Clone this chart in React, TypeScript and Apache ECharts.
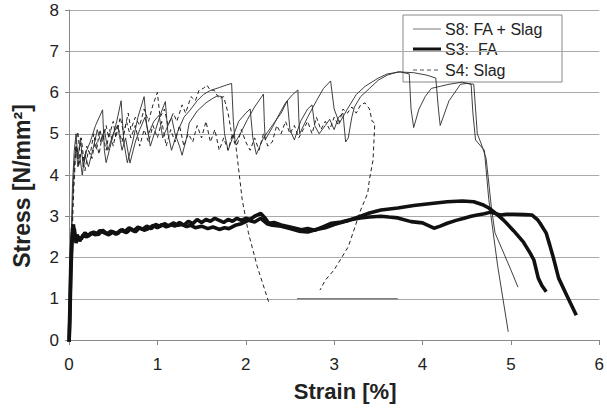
import React, { useEffect, useRef } from "react";
import * as echarts from "echarts";

// Tick settings
const xTicks = { min: 0, max: 6, interval: 1 };
const yTicks = { min: 0, max: 8, interval: 1 };

// Legend labels
const legendS8 = "S8: FA + Slag";
const legendS3 = "S3:  FA";
const legendS4 = "S4: Slag";

// S8: FA + Slag (thin solid) specimen A
const s8a: [number, number][] = [
  [0, 0], [0.02, 2.0], [0.04, 3.8], [0.06, 4.6], [0.08, 5.0], [0.1, 4.4], [0.13, 4.9], [0.16, 4.2],
  [0.2, 4.6], [0.24, 4.8], [0.3, 5.2], [0.38, 5.58], [0.4, 4.6], [0.42, 4.3], [0.48, 4.8], [0.54, 5.3],
  [0.59, 5.8], [0.62, 4.8], [0.66, 4.3], [0.72, 4.8], [0.78, 5.4], [0.85, 5.9], [0.88, 5.2], [0.92, 4.7],
  [0.98, 5.1], [1.04, 5.5], [1.09, 5.78], [1.12, 5.0], [1.16, 4.6], [1.22, 5.0], [1.3, 5.4], [1.38, 5.6],
  [1.45, 5.8], [1.52, 5.95], [1.6, 6.05], [1.7, 6.12], [1.78, 6.18], [1.84, 6.22], [1.86, 5.3], [1.88, 4.78],
  [1.95, 5.05], [2.02, 5.35], [2.1, 5.65], [2.2, 5.96], [2.21, 5.3], [2.22, 4.85], [2.3, 5.15], [2.36, 5.4],
  [2.45, 5.75], [2.53, 5.95], [2.59, 6.06], [2.6, 5.4], [2.61, 5.0], [2.7, 5.4], [2.8, 5.8], [2.88, 6.1],
  [2.96, 6.28], [3.0, 5.6], [3.06, 5.26], [3.15, 5.6], [3.25, 5.95], [3.35, 6.15], [3.5, 6.35], [3.6, 6.45],
  [3.75, 6.5], [3.85, 6.45], [3.87, 5.6], [3.9, 5.15], [3.96, 5.6], [4.03, 5.9], [4.1, 6.1], [4.2, 6.15],
  [4.3, 6.2], [4.45, 6.25], [4.55, 6.2], [4.57, 5.5], [4.6, 4.85], [4.7, 4.6], [4.75, 3.4], [4.85, 1.8],
  [4.97, 0.2],
];

// S8: FA + Slag (thin solid) specimen B
const s8b: [number, number][] = [
  [0, 0], [0.02, 1.5], [0.04, 3.2], [0.06, 4.2], [0.08, 4.7], [0.1, 4.2], [0.12, 4.5], [0.15, 4.0],
  [0.18, 4.5], [0.22, 4.2], [0.28, 4.7], [0.32, 5.1], [0.36, 4.8], [0.4, 5.1], [0.44, 4.6], [0.5, 5.0],
  [0.55, 5.2], [0.6, 4.6], [0.64, 4.9], [0.69, 4.29], [0.75, 4.8], [0.8, 5.1], [0.86, 5.4], [0.9, 5.0],
  [0.96, 5.3], [1.02, 5.45], [1.06, 4.9], [1.1, 5.1], [1.16, 5.4], [1.2, 5.0], [1.25, 4.7], [1.28, 4.48],
  [1.33, 4.9], [1.36, 5.26], [1.45, 5.55], [1.55, 5.75], [1.62, 5.85], [1.68, 5.92], [1.73, 5.9], [1.76, 5.0],
  [1.8, 4.6], [1.85, 4.9], [1.92, 5.3], [2.0, 5.5], [2.05, 5.6], [2.08, 4.9], [2.12, 4.5], [2.2, 4.9],
  [2.3, 5.2], [2.4, 5.5], [2.47, 5.8], [2.5, 5.1], [2.55, 4.85], [2.62, 5.3], [2.7, 5.6], [2.75, 5.7],
  [2.78, 5.2], [2.83, 5.0], [2.9, 5.2], [2.95, 5.35], [3.0, 5.1], [3.05, 5.4], [3.1, 5.5], [3.13, 4.8],
  [3.16, 4.9], [3.2, 5.4], [3.23, 5.65], [3.3, 5.9], [3.4, 6.1], [3.5, 6.3], [3.6, 6.42], [3.72, 6.5],
  [3.9, 6.48], [4.05, 6.42], [4.15, 6.35], [4.18, 5.6], [4.2, 5.2], [4.3, 5.8], [4.43, 6.2], [4.5, 6.22],
  [4.58, 6.2], [4.6, 5.6], [4.62, 5.0], [4.66, 4.78], [4.72, 4.4], [4.78, 3.2], [4.82, 2.6], [4.9, 2.2],
  [5.0, 1.7], [5.08, 1.28],
];

// S3: FA (thick solid) specimen A
const s3a: [number, number][] = [
  [0, -0.15], [0.01, 0.5], [0.02, 1.5], [0.03, 2.2], [0.04, 2.7], [0.05, 2.8], [0.07, 2.4], [0.09, 2.55],
  [0.12, 2.4], [0.16, 2.55], [0.2, 2.5], [0.25, 2.6], [0.3, 2.55], [0.35, 2.65], [0.4, 2.6], [0.45, 2.55],
  [0.5, 2.62], [0.55, 2.58], [0.6, 2.68], [0.65, 2.6], [0.7, 2.7], [0.75, 2.62], [0.8, 2.72], [0.85, 2.66],
  [0.9, 2.7], [0.95, 2.78], [1.0, 2.72], [1.05, 2.8], [1.1, 2.74], [1.15, 2.8], [1.2, 2.76], [1.25, 2.85],
  [1.3, 2.78], [1.35, 2.88], [1.4, 2.82], [1.45, 2.92], [1.5, 2.85], [1.55, 2.92], [1.6, 2.88], [1.65, 2.95],
  [1.7, 2.9], [1.75, 2.85], [1.8, 2.92], [1.85, 2.88], [1.9, 2.95], [1.95, 2.9], [2.0, 2.95], [2.05, 2.92],
  [2.1, 3.0], [2.17, 3.07], [2.22, 2.95], [2.26, 2.83], [2.32, 2.85], [2.4, 2.79], [2.5, 2.74], [2.63, 2.67],
  [2.7, 2.7], [2.78, 2.66], [2.88, 2.75], [2.97, 2.83], [3.08, 2.86], [3.16, 2.9], [3.3, 3.0], [3.4, 3.08],
  [3.53, 3.15], [3.72, 3.2], [3.9, 3.26], [4.1, 3.31], [4.28, 3.35], [4.45, 3.37], [4.58, 3.35], [4.68, 3.28],
  [4.75, 3.2], [4.84, 3.05], [4.92, 2.9], [5.03, 2.65], [5.14, 2.38], [5.22, 2.1], [5.26, 1.94], [5.31, 1.5],
  [5.35, 1.32], [5.4, 1.17],
];

// S3: FA (thick solid) specimen B
const s3b: [number, number][] = [
  [0, -0.1], [0.01, 0.8], [0.02, 1.8], [0.03, 2.3], [0.04, 2.6], [0.06, 2.7], [0.08, 2.35], [0.1, 2.5],
  [0.14, 2.45], [0.18, 2.6], [0.22, 2.52], [0.28, 2.62], [0.33, 2.55], [0.38, 2.66], [0.43, 2.58], [0.48, 2.64],
  [0.53, 2.56], [0.58, 2.66], [0.63, 2.62], [0.68, 2.72], [0.73, 2.64], [0.78, 2.74], [0.83, 2.68], [0.88, 2.76],
  [0.93, 2.7], [0.98, 2.8], [1.03, 2.75], [1.08, 2.82], [1.13, 2.76], [1.18, 2.84], [1.23, 2.78], [1.28, 2.8],
  [1.33, 2.75], [1.38, 2.78], [1.43, 2.72], [1.5, 2.76], [1.57, 2.7], [1.63, 2.74], [1.7, 2.68], [1.76, 2.72],
  [1.81, 2.7], [1.88, 2.78], [1.95, 2.82], [2.03, 2.9], [2.1, 2.86], [2.17, 2.95], [2.24, 2.82], [2.3, 2.78],
  [2.4, 2.76], [2.5, 2.7], [2.6, 2.64], [2.7, 2.62], [2.8, 2.68], [2.9, 2.72], [3.0, 2.8], [3.1, 2.86],
  [3.2, 2.92], [3.3, 2.96], [3.4, 2.98], [3.53, 3.0], [3.62, 2.98], [3.72, 2.96], [3.87, 2.87], [4.0, 2.84],
  [4.13, 2.71], [4.2, 2.76], [4.28, 2.83], [4.38, 2.9], [4.47, 2.95], [4.55, 3.0], [4.62, 3.03], [4.7, 3.06],
  [4.77, 3.1], [4.88, 3.03], [4.95, 3.05], [5.03, 3.05], [5.15, 3.04], [5.24, 3.03], [5.3, 2.92], [5.33, 2.83],
  [5.4, 2.59], [5.44, 2.3], [5.48, 2.0], [5.54, 1.5], [5.63, 1.09], [5.74, 0.6],
];

// S4: Slag (dashed) specimen A
const s4a: [number, number][] = [
  [0, 0], [0.02, 1.5], [0.04, 3.2], [0.06, 4.2], [0.08, 4.8], [0.1, 5.05], [0.12, 4.6], [0.14, 4.9],
  [0.17, 4.3], [0.2, 4.7], [0.24, 4.5], [0.28, 5.0], [0.31, 4.6], [0.35, 5.1], [0.38, 4.8], [0.42, 5.2],
  [0.45, 4.9], [0.5, 5.3], [0.53, 4.9], [0.58, 5.4], [0.62, 5.0], [0.67, 5.5], [0.7, 5.1], [0.75, 5.4],
  [0.8, 5.2], [0.85, 5.6], [0.9, 5.3], [0.95, 5.7], [1.0, 6.0], [1.03, 5.4], [1.08, 5.6], [1.12, 5.2],
  [1.18, 5.5], [1.22, 5.3], [1.28, 5.7], [1.32, 5.5], [1.38, 5.9], [1.43, 5.8], [1.47, 6.05], [1.52, 6.1],
  [1.56, 6.18], [1.6, 6.05], [1.64, 6.06], [1.7, 5.85], [1.75, 5.9], [1.8, 5.5], [1.84, 5.0], [1.89, 4.68],
  [1.96, 3.4], [2.03, 2.6], [2.13, 1.78], [2.26, 0.92],
];

// S4: Slag (dashed) specimen B
const s4b: [number, number][] = [
  [0, 0], [0.03, 2.0], [0.05, 3.5], [0.07, 4.3], [0.09, 4.7], [0.11, 4.2], [0.14, 4.6], [0.18, 4.1],
  [0.22, 4.6], [0.26, 4.4], [0.3, 4.9], [0.34, 4.5], [0.38, 5.0], [0.42, 4.6], [0.46, 5.1], [0.5, 4.7],
  [0.55, 5.2], [0.6, 4.8], [0.65, 5.3], [0.7, 4.9], [0.75, 5.2], [0.8, 4.7], [0.85, 5.1], [0.9, 4.8],
  [0.95, 5.2], [1.0, 4.9], [1.05, 5.3], [1.1, 4.7], [1.15, 5.1], [1.2, 4.8], [1.25, 5.2], [1.3, 4.7],
  [1.35, 5.0], [1.4, 4.8], [1.45, 5.2], [1.5, 4.9], [1.55, 5.3], [1.6, 4.8], [1.65, 5.1], [1.7, 4.6],
  [1.75, 4.9], [1.8, 4.6], [1.85, 5.0], [1.9, 4.7], [1.95, 5.1], [2.0, 4.8], [2.05, 4.6], [2.1, 4.9],
  [2.15, 4.6], [2.2, 5.0], [2.25, 4.7], [2.3, 4.8], [2.35, 5.2], [2.4, 5.0], [2.45, 5.3], [2.5, 5.0],
  [2.55, 5.2], [2.6, 4.9], [2.65, 5.1], [2.7, 5.3], [2.75, 5.0], [2.8, 5.4], [2.85, 5.1], [2.9, 5.3],
  [2.95, 5.1], [3.0, 5.4], [3.05, 5.2], [3.1, 5.6], [3.15, 5.5], [3.2, 5.65], [3.25, 5.5], [3.3, 5.7],
  [3.35, 5.75], [3.4, 5.6], [3.43, 5.3], [3.46, 5.26], [3.45, 4.8], [3.44, 4.36], [3.4, 3.9], [3.38, 3.56],
  [3.3, 3.15], [3.16, 2.26], [3.0, 1.7], [2.9, 1.45], [2.84, 1.21],
];

// Flat segment at stress 1 (logged plateau)
const flatSegment: [number, number][] = [
  [2.58, 1.0], [3.72, 1.0],
];

const FONT = "'Liberation Sans', Arial, sans-serif";

export default function App() {
  const ref = useRef<HTMLDivElement>(null);

  useEffect(() => {
    if (!ref.current) return;
    const chart = echarts.init(ref.current, undefined, { renderer: "svg" });

    const thin = { color: "#2a2a2a", width: 0.9 };
    const thick = { color: "#111", width: 3.6 };
    const dashed = { color: "#222", width: 1, type: [4, 3] as number[] };

    const mk = (name: string, data: [number, number][], lineStyle: any, z = 2) => ({
      type: "line",
      name,
      data,
      showSymbol: false,
      symbol: "none",
      lineStyle,
      z,
      silent: true,
    });

    chart.setOption({
      animation: false,
      backgroundColor: "#fff",
      grid: { left: 69, right: 4, top: 10, bottom: 70, containLabel: false },
      xAxis: {
        type: "value",
        min: xTicks.min,
        max: xTicks.max,
        interval: xTicks.interval,
        name: "Strain [%]",
        nameLocation: "middle",
        nameGap: 40,
        nameTextStyle: { fontFamily: FONT, fontSize: 22, fontWeight: "bold", color: "#222", padding: [0, 0, 0, 22] },
        axisLine: { show: true, lineStyle: { color: "#888", width: 1 } },
        axisTick: { show: true, length: 5, lineStyle: { color: "#888" } },
        axisLabel: { fontFamily: FONT, fontSize: 17, color: "#222", margin: 16 },
        splitLine: { show: false },
      },
      yAxis: {
        type: "value",
        min: yTicks.min,
        max: yTicks.max,
        interval: yTicks.interval,
        name: "Stress [N/mm²]",
        nameLocation: "middle",
        nameGap: 36,
        nameRotate: 90,
        nameTextStyle: { fontFamily: FONT, fontSize: 23, fontWeight: "bold", color: "#222", padding: [0, 22, 0, 0] },
        axisLine: { show: true, lineStyle: { color: "#888", width: 1 } },
        axisTick: { show: true, length: 4, lineStyle: { color: "#888" } },
        axisLabel: { fontFamily: FONT, fontSize: 17, color: "#222", margin: 10 },
        splitLine: { show: true, lineStyle: { color: "#aaa", width: 1 } },
      },
      series: [
        mk(legendS4, s4a, dashed),
        mk(legendS4, s4b, dashed),
        mk(legendS8, s8a, thin, 3),
        mk(legendS8, s8b, thin, 3),
        mk(legendS3, s3a, thick, 4),
        mk(legendS3, s3b, thick, 4),
        mk("", flatSegment, { color: "#555", width: 1.2 }, 2),
      ],
      graphic: [
        {
          type: "group",
          z: 100,
          children: [
            { type: "rect", shape: { x: 403, y: 15, width: 159, height: 67 }, style: { fill: "#fff", stroke: "#888", lineWidth: 1 } },
            { type: "line", shape: { x1: 413, y1: 29, x2: 441, y2: 29 }, style: { stroke: "#777", lineWidth: 1 } },
            { type: "text", x: 445, y: 29, style: { text: legendS8, font: `16px ${FONT}`, fill: "#222", textVerticalAlign: "middle" } },
            { type: "line", shape: { x1: 413, y1: 49, x2: 441, y2: 49 }, style: { stroke: "#111", lineWidth: 3 } },
            { type: "text", x: 445, y: 49, style: { text: legendS3, font: `16px ${FONT}`, fill: "#222", textVerticalAlign: "middle" } },
            { type: "line", shape: { x1: 413, y1: 70, x2: 441, y2: 70 }, style: { stroke: "#555", lineWidth: 1, lineDash: [4, 3] } },
            { type: "text", x: 445, y: 70, style: { text: legendS4, font: `16px ${FONT}`, fill: "#222", textVerticalAlign: "middle" } },
          ],
        },
      ],
    });

    return () => chart.dispose();
  }, []);

  return <div ref={ref} style={{ width: 607, height: 410, position: "absolute", left: 0, top: 0 }} />;
}
